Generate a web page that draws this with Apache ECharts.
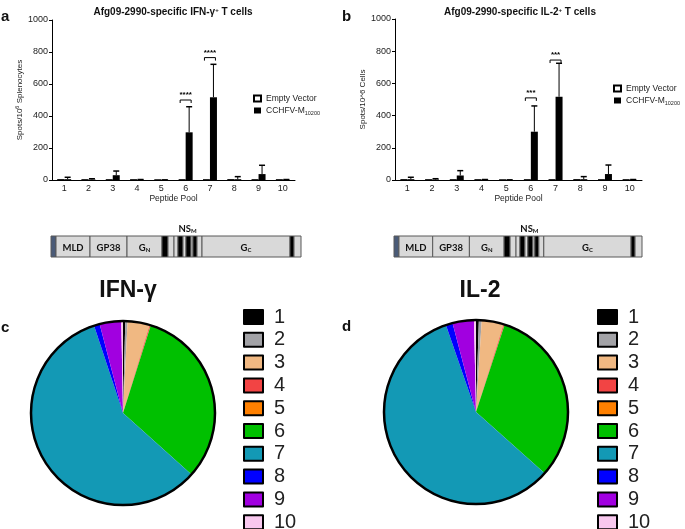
<!DOCTYPE html>
<html>
<head>
<meta charset="utf-8">
<script src="https://cdn.jsdelivr.net/npm/echarts@6/dist/echarts.min.js"></script>
<style>
  html, body { margin: 0; padding: 0; background: #fff; }
  #chart { width: 685px; height: 529px; }
</style>
</head>
<body>
<div id="chart"></div>
<script>
// peptide pools on the x axis of both bar panels
const pools = ['1', '2', '3', '4', '5', '6', '7', '8', '9', '10']

// panel a: IFN-γ spots per 10^6 splenocytes
const ifnEmpty = [2, 1, 1, 1, 0, 1, 1, 2, 1, 1]
const ifnMean = [5, 3, 30, 2, 1, 298, 517, 5, 37, 2]
const ifnErr = [12, 5, 26, 1, 0, 160, 206, 16, 55, 1]
const ifnSigPool = [5, 6]
const ifnSigLevel = [500, 765]
const ifnSigText = ['****', '****']

// panel b: IL-2 spots per 10^6 cells
const il2Empty = [2, 1, 1, 1, 0, 1, 1, 2, 1, 1]
const il2Mean = [5, 3, 28, 2, 1, 300, 517, 5, 37, 2]
const il2Err = [12, 5, 30, 1, 0, 160, 208, 16, 56, 1]
const il2SigPool = [5, 6]
const il2SigLevel = [510, 745]
const il2SigText = ['***', '***']

// panels c, d: share of response per pool (%)
const ifnShare = [0.4, 0.4, 3.9, 0.15, 0.05, 31.8, 58.4, 1.0, 3.8, 0.3]
const il2Share = [0.5, 0.5, 3.9, 0.15, 0.05, 31.8, 58.6, 1.2, 3.8, 0.35]

// M segment map (relative map units 0-250)
const segStart = [0, 5, 39, 76, 111, 117, 123, 127, 132, 135, 140, 142, 146, 151, 239, 243]
const segEnd = [5, 39, 76, 111, 117, 123, 127, 132, 135, 140, 142, 146, 151, 239, 243, 250]
const segKind = ['tail', 'dom', 'dom', 'dom', 'tm', 'dom', 'dom', 'tm', 'dom', 'tm', 'dom', 'tm', 'dom', 'dom', 'tm', 'dom']
const segLabel = ['', 'MLD', 'GP38', 'G_N', '', '', '', '', '', '', '', '', '', 'G_C', '', '']
const nsmRange = [127, 146]

const FONT = '"Liberation Sans", Arial, sans-serif'
const pieColors = ['#000000', '#a2a2a6', '#f0b882', '#f24444', '#ff8000',
  '#00c000', '#1399b5', '#0000ff', '#a100e0', '#f8c8ee']
const kindColor = { tail: '#4a5b78', dom: '#d9d9d9', tm: '#000000' }
const BAR_W = 7

const chart = echarts.init(document.getElementById('chart'))

function errorBars(params, api) {
  const p0 = api.coord([api.value(0), api.value(1)])
  const p1 = api.coord([api.value(0), api.value(1) + api.value(2)])
  const x = p0[0] + BAR_W / 2
  return {
    type: 'group',
    children: [
      { type: 'line', shape: { x1: x, y1: p0[1], x2: x, y2: p1[1] }, style: { stroke: '#000', lineWidth: 1 } },
      { type: 'line', shape: { x1: x - 3, y1: p1[1], x2: x + 3, y2: p1[1] }, style: { stroke: '#000', lineWidth: 1.5 } },
    ],
  }
}

function sigBracket(texts) {
  return function (params, api) {
    const p = api.coord([api.value(0), api.value(1)])
    const l = p[0] - 5.5
    const r = p[0] + 5.5
    return {
      type: 'group',
      children: [
        {
          type: 'polyline',
          shape: { points: [[l, p[1] + 3], [l, p[1]], [r, p[1]], [r, p[1] + 3]] },
          style: { stroke: '#000', lineWidth: 1, fill: null },
        },
        {
          type: 'text',
          x: p[0], y: p[1] - 1,
          style: { text: texts[params.dataIndex], font: 'bold 8px ' + FONT, fill: '#000', align: 'center', verticalAlign: 'bottom' },
        },
      ],
    }
  }
}

function segLabelRich(s) {
  if (s.indexOf('_') < 0) return s
  const parts = s.split('_')
  return '{b|' + parts[0] + '}{s|' + parts[1] + '}'
}

function mapRender(params, api) {
  const a = api.coord([api.value(0), 1])
  const b = api.coord([api.value(1), 0])
  const i = params.dataIndex
  const children = [{
    type: 'rect',
    shape: { x: a[0], y: a[1], width: b[0] - a[0], height: b[1] - a[1] },
    style: { fill: kindColor[segKind[i]], stroke: '#595959', lineWidth: 1 },
  }]
  if (segLabel[i]) {
    children.push({
      type: 'text',
      x: (a[0] + b[0]) / 2, y: (a[1] + b[1]) / 2 + 1,
      style: {
        text: segLabelRich(segLabel[i]), align: 'center', verticalAlign: 'middle',
        font: 'bold 9.5px Lato, sans-serif', fill: '#111',
        rich: {
          b: { font: 'bold 9.5px Lato, sans-serif', fill: '#111' },
          s: { font: 'bold 6px Lato, sans-serif', fill: '#111', padding: [5, 0, 0, 0] },
        },
      },
    })
  }
  return { type: 'group', children: children }
}

function nsmRender(params, api) {
  const a = api.coord([api.value(0), 1])
  const b = api.coord([api.value(1), 1])
  return {
    type: 'text',
    x: (a[0] + b[0]) / 2, y: a[1] - 2,
    style: {
      text: '{b|NS}{s|M}', align: 'center', verticalAlign: 'bottom',
      rich: {
        b: { font: 'bold 9.5px Lato, sans-serif', fill: '#111' },
        s: { font: 'bold 6px Lato, sans-serif', fill: '#111', padding: [5, 0, 0, 0] },
      },
    },
  }
}

function yAxisOf(grid, name) {
  return {
    type: 'value', gridIndex: grid, min: 0, max: 1000, interval: 200,
    name: name, nameLocation: 'middle', nameGap: 27,
    nameTextStyle: {
      fontFamily: FONT, fontSize: 8, color: '#222',
      rich: { sup: { fontSize: 5.5, fontFamily: FONT, color: '#222', padding: [0, 0, 5, 0] } },
    },
    axisLine: { show: true, lineStyle: { color: '#000', width: 1 } },
    axisTick: { show: true, length: 3, lineStyle: { color: '#000' } },
    axisLabel: { fontFamily: FONT, fontSize: 9, color: '#222', margin: 4, formatter: (v) => String(v) },
    splitLine: { show: false },
  }
}

function xAxisOf(grid) {
  return {
    type: 'category', gridIndex: grid, data: pools,
    name: 'Peptide Pool', nameLocation: 'middle', nameGap: 14,
    nameTextStyle: { fontFamily: FONT, fontSize: 8.5, color: '#222' },
    axisLine: { lineStyle: { color: '#000', width: 1 } },
    axisTick: { alignWithLabel: true, length: 3, lineStyle: { color: '#000' } },
    axisLabel: { fontFamily: FONT, fontSize: 9, color: '#222', margin: 4 },
  }
}

function mapAxes(grid) {
  return {
    x: { type: 'value', gridIndex: grid, min: 0, max: 250, show: false },
    y: { type: 'value', gridIndex: grid, min: 0, max: 1, show: false },
  }
}

const mapA = mapAxes(2)
const mapB = mapAxes(3)

const legendRich = {
  t: { fontFamily: FONT, fontSize: 8.5, color: '#222' },
  s: { fontFamily: FONT, fontSize: 5.5, color: '#222', padding: [5, 0, 0, 0] },
}
function barLegend(left, top) {
  return {
    orient: 'vertical', left: left, top: top, padding: 0,
    itemWidth: 7, itemHeight: 6, itemGap: 3, icon: 'rect',
    data: ['Empty Vector', 'CCHFV-M10200'],
    formatter: (n) => n === 'CCHFV-M10200' ? '{t|CCHFV-M}{s|10200}' : '{t|' + n + '}',
    textStyle: { rich: legendRich, lineHeight: 8, padding: [0, 0, 0, 0] },
    selectedMode: false,
  }
}
function pieLegend(left) {
  return {
    orient: 'vertical', left: left, top: 307, height: 260, padding: 0,
    itemWidth: 19, itemHeight: 14, itemGap: 2.8,
    data: pools,
    icon: 'rect',
    itemStyle: { borderColor: '#000', borderWidth: 2 },
    textStyle: { fontFamily: FONT, fontSize: 20, color: '#222', padding: [0, 0, 0, 6] },
    selectedMode: false,
  }
}

function pieSeries(center, values) {
  return [
    {
      type: 'pie', center: center, radius: 92, startAngle: 90, clockwise: true,
      label: { show: false }, labelLine: { show: false }, silent: true,
      itemStyle: { borderWidth: 0 },
      data: pools.map((p, i) => ({ name: p, value: values[i], itemStyle: { color: pieColors[i] } })),
    },
    {
      type: 'pie', center: center, radius: 92, silent: true,
      label: { show: false }, labelLine: { show: false },
      itemStyle: { color: 'rgba(0,0,0,0)', borderColor: '#000', borderWidth: 2.5 },
      data: [{ name: 'outline', value: 1 }],
    },
  ]
}

chart.setOption({
  animation: false,
  title: [
    { text: 'Afg09-2990-specific IFN-γ{sup|+} T cells', left: 168, top: 2, textAlign: 'center',
      textStyle: { fontFamily: FONT, fontSize: 10, fontWeight: 'bold', color: '#111',
        rich: { sup: { fontFamily: FONT, fontSize: 6, fontWeight: 'bold', color: '#111', padding: [0, 0, 5, 0] } } } },
    { text: 'Afg09-2990-specific IL-2{sup|+} T cells', left: 515, top: 2, textAlign: 'center',
      textStyle: { fontFamily: FONT, fontSize: 10, fontWeight: 'bold', color: '#111',
        rich: { sup: { fontFamily: FONT, fontSize: 6, fontWeight: 'bold', color: '#111', padding: [0, 0, 5, 0] } } } },
    { text: 'IFN-γ', left: 123, top: 274, textAlign: 'center',
      textStyle: { fontFamily: FONT, fontSize: 23, fontWeight: 'bold', color: '#111' } },
    { text: 'IL-2', left: 475, top: 274, textAlign: 'center',
      textStyle: { fontFamily: FONT, fontSize: 23, fontWeight: 'bold', color: '#111' } },
  ],
  graphic: [
    { type: 'text', left: 1, top: 9, style: { text: 'a', font: 'bold 15px ' + FONT, fill: '#111' } },
    { type: 'text', left: 342, top: 9, style: { text: 'b', font: 'bold 15px ' + FONT, fill: '#111' } },
    { type: 'text', left: 1, top: 320, style: { text: 'c', font: 'bold 15px ' + FONT, fill: '#111' } },
    { type: 'text', left: 342, top: 319, style: { text: 'd', font: 'bold 15px ' + FONT, fill: '#111' } },
  ],
  legend: [barLegend(253, 94), barLegend(613, 84), pieLegend(243), pieLegend(597)],
  grid: [
    { left: 52, top: 20, width: 243, height: 160 },
    { left: 395, top: 19, width: 247, height: 161 },
    { left: 51, top: 236, width: 250, height: 21 },
    { left: 394, top: 236, width: 248, height: 21 },
  ],
  xAxis: [xAxisOf(0), xAxisOf(1), mapA.x, mapB.x],
  yAxis: [
    yAxisOf(0, 'Spots/10{sup|6} Splenocytes'),
    yAxisOf(1, 'Spots/10^6 Cells'),
    mapA.y, mapB.y,
  ],
  series: [
    { name: 'Empty Vector', type: 'bar', xAxisIndex: 0, yAxisIndex: 0, data: ifnEmpty, barWidth: BAR_W, barGap: '0%',
      itemStyle: { color: '#fff', borderColor: '#000', borderWidth: 1 }, silent: true },
    { name: 'CCHFV-M10200', type: 'bar', xAxisIndex: 0, yAxisIndex: 0, data: ifnMean, barWidth: BAR_W, barGap: '0%',
      itemStyle: { color: '#000' }, silent: true },
    { type: 'custom', xAxisIndex: 0, yAxisIndex: 0, renderItem: errorBars, silent: true, z: 3,
      data: ifnMean.map((m, i) => [i, m, ifnErr[i]]) },
    { type: 'custom', xAxisIndex: 0, yAxisIndex: 0, renderItem: sigBracket(ifnSigText), silent: true,
      data: ifnSigPool.map((p, i) => [p, ifnSigLevel[i]]) },

    { name: 'Empty Vector', type: 'bar', xAxisIndex: 1, yAxisIndex: 1, data: il2Empty, barWidth: BAR_W, barGap: '0%',
      itemStyle: { color: '#fff', borderColor: '#000', borderWidth: 1 }, silent: true },
    { name: 'CCHFV-M10200', type: 'bar', xAxisIndex: 1, yAxisIndex: 1, data: il2Mean, barWidth: BAR_W, barGap: '0%',
      itemStyle: { color: '#000' }, silent: true },
    { type: 'custom', xAxisIndex: 1, yAxisIndex: 1, renderItem: errorBars, silent: true, z: 3,
      data: il2Mean.map((m, i) => [i, m, il2Err[i]]) },
    { type: 'custom', xAxisIndex: 1, yAxisIndex: 1, renderItem: sigBracket(il2SigText), silent: true,
      data: il2SigPool.map((p, i) => [p, il2SigLevel[i]]) },

    { type: 'custom', xAxisIndex: 2, yAxisIndex: 2, renderItem: mapRender, silent: true,
      data: segStart.map((s, i) => [s, segEnd[i]]) },
    { type: 'custom', xAxisIndex: 2, yAxisIndex: 2, renderItem: nsmRender, silent: true, data: [nsmRange] },
    { type: 'custom', xAxisIndex: 3, yAxisIndex: 3, renderItem: mapRender, silent: true,
      data: segStart.map((s, i) => [s, segEnd[i]]) },
    { type: 'custom', xAxisIndex: 3, yAxisIndex: 3, renderItem: nsmRender, silent: true, data: [nsmRange] },

    ...pieSeries([123, 413], ifnShare),
    ...pieSeries([476, 412], il2Share),
  ],
})
</script>
</body>
</html>
